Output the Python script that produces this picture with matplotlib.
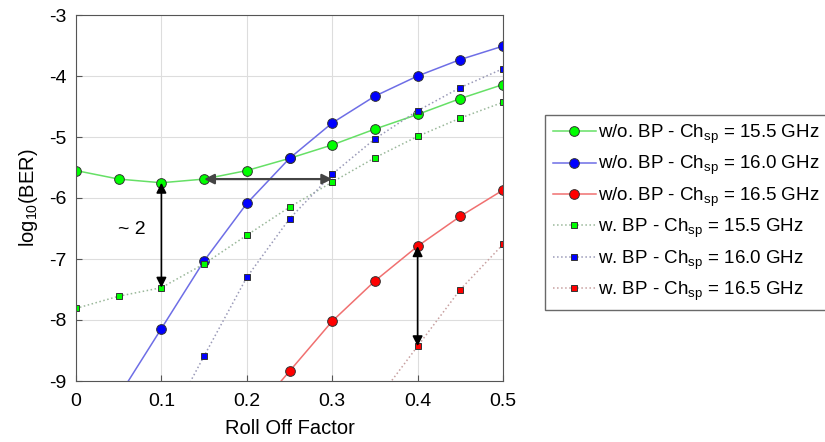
import matplotlib.pyplot as plt

plt.rcParams['font.family'] = ['Liberation Sans', 'DejaVu Sans']
plt.rcParams['mathtext.fontset'] = 'custom'
plt.rcParams['mathtext.rm'] = 'Liberation Sans'
plt.rcParams['axes.unicode_minus'] = False

# roll off factor
x = [0, 0.05, 0.1, 0.15, 0.2, 0.25, 0.3, 0.35, 0.4, 0.45, 0.5]

wo_155 = [-5.55, -5.69, -5.75, -5.69, -5.55, -5.35, -5.13, -4.87, -4.63, -4.37, -4.14]
wo_160 = [None, -9.25, -8.14, -7.03, -6.09, -5.35, -4.77, -4.33, -4.00, -3.73, -3.51]
wo_165 = [None, None, None, None, -9.66, -8.84, -8.02, -7.36, -6.79, -6.30, -5.87]
w_155 = [-7.81, -7.61, -7.47, -7.08, -6.61, -6.15, -5.74, -5.34, -4.99, -4.69, -4.43]
w_160 = [None, None, -9.9, -8.59, -7.30, -6.34, -5.61, -5.03, -4.57, -4.19, -3.88]
w_165 = [None, None, None, None, None, None, None, -9.36, -8.43, -7.50, -6.76]

labels = ['w/o. BP - Ch$_{\\mathregular{sp}}$ = 15.5 GHz',
          'w/o. BP - Ch$_{\\mathregular{sp}}$ = 16.0 GHz',
          'w/o. BP - Ch$_{\\mathregular{sp}}$ = 16.5 GHz',
          'w. BP - Ch$_{\\mathregular{sp}}$ = 15.5 GHz',
          'w. BP - Ch$_{\\mathregular{sp}}$ = 16.0 GHz',
          'w. BP - Ch$_{\\mathregular{sp}}$ = 16.5 GHz']


def pts(vals):
    xs = [a for a, b in zip(x, vals) if b is not None]
    ys = [b for b in vals if b is not None]
    return xs, ys


fig = plt.figure(figsize=(8.25, 4.42), dpi=100)
ax = fig.add_axes([76 / 825, 1 - 381 / 442, 427 / 825, 366 / 442])

solid = [(wo_155, '#66e066', '#00ff00'), (wo_160, '#6e6ee6', '#0000ff'), (wo_165, '#f07070', '#ff0000')]
dotted = [(w_155, '#9ab89a', '#00ff00'), (w_160, '#9a9ab8', '#0000ff'), (w_165, '#c8a0a0', '#ff0000')]

handles = []
for vals, lc, mc in solid:
    xs, ys = pts(vals)
    h, = ax.plot(xs, ys, '-', color=lc, lw=1.1, marker='o', ms=7,
                 mfc=mc, mec='#333333', mew=0.7)
    handles.append(h)
for vals, lc, mc in dotted:
    xs, ys = pts(vals)
    h, = ax.plot(xs, ys, ':', color=lc, lw=1.1, marker='s', ms=5,
                 mfc=mc, mec='#333333', mew=0.7)
    handles.append(h)

# annotation arrows
arw = dict(arrowstyle='<|-|>', color='black', lw=1.2, mutation_scale=15,
           shrinkA=0, shrinkB=0)
ax.annotate('', xy=(0.1, -5.75), xytext=(0.1, -7.47), arrowprops=arw)
ax.annotate('', xy=(0.15, -5.69), xytext=(0.3, -5.69),
            arrowprops=dict(arw, color='#444444', lw=1.6))
ax.annotate('', xy=(0.4, -6.79), xytext=(0.4, -8.43), arrowprops=arw)
ax.text(0.065, -6.52, '~ 2', fontsize=14, ha='center', va='center')

ax.set_xlim(0, 0.5)
ax.set_ylim(-9, -3)
ax.set_xticks([0, 0.1, 0.2, 0.3, 0.4, 0.5])
ax.set_xticklabels(['0', '0.1', '0.2', '0.3', '0.4', '0.5'])
ax.set_yticks([-9, -8, -7, -6, -5, -4, -3])
ax.grid(True, color='#dddddd', lw=0.8)
ax.tick_params(direction='in', labelsize=14, length=4, color='#555555')
ax.tick_params(axis='x', pad=9)
ax.tick_params(axis='y', pad=7)
for s in ax.spines.values():
    s.set_color('#555555')
ax.set_xlabel('Roll Off Factor', fontsize=14.5, labelpad=6)
ax.set_ylabel('log$_{\\mathregular{10}}$(BER)', fontsize=14.5, labelpad=6)

leg = fig.legend(handles, labels, loc='upper left', bbox_to_anchor=(545 / 825, 1 - 115 / 442),
                 fontsize=13.5, frameon=True, fancybox=False, edgecolor='#444444',
                 handlelength=2.3, labelspacing=0.42, borderaxespad=0, handletextpad=0.15)
leg.get_frame().set_linewidth(1.0)

fig.savefig('out.png', dpi=100)
